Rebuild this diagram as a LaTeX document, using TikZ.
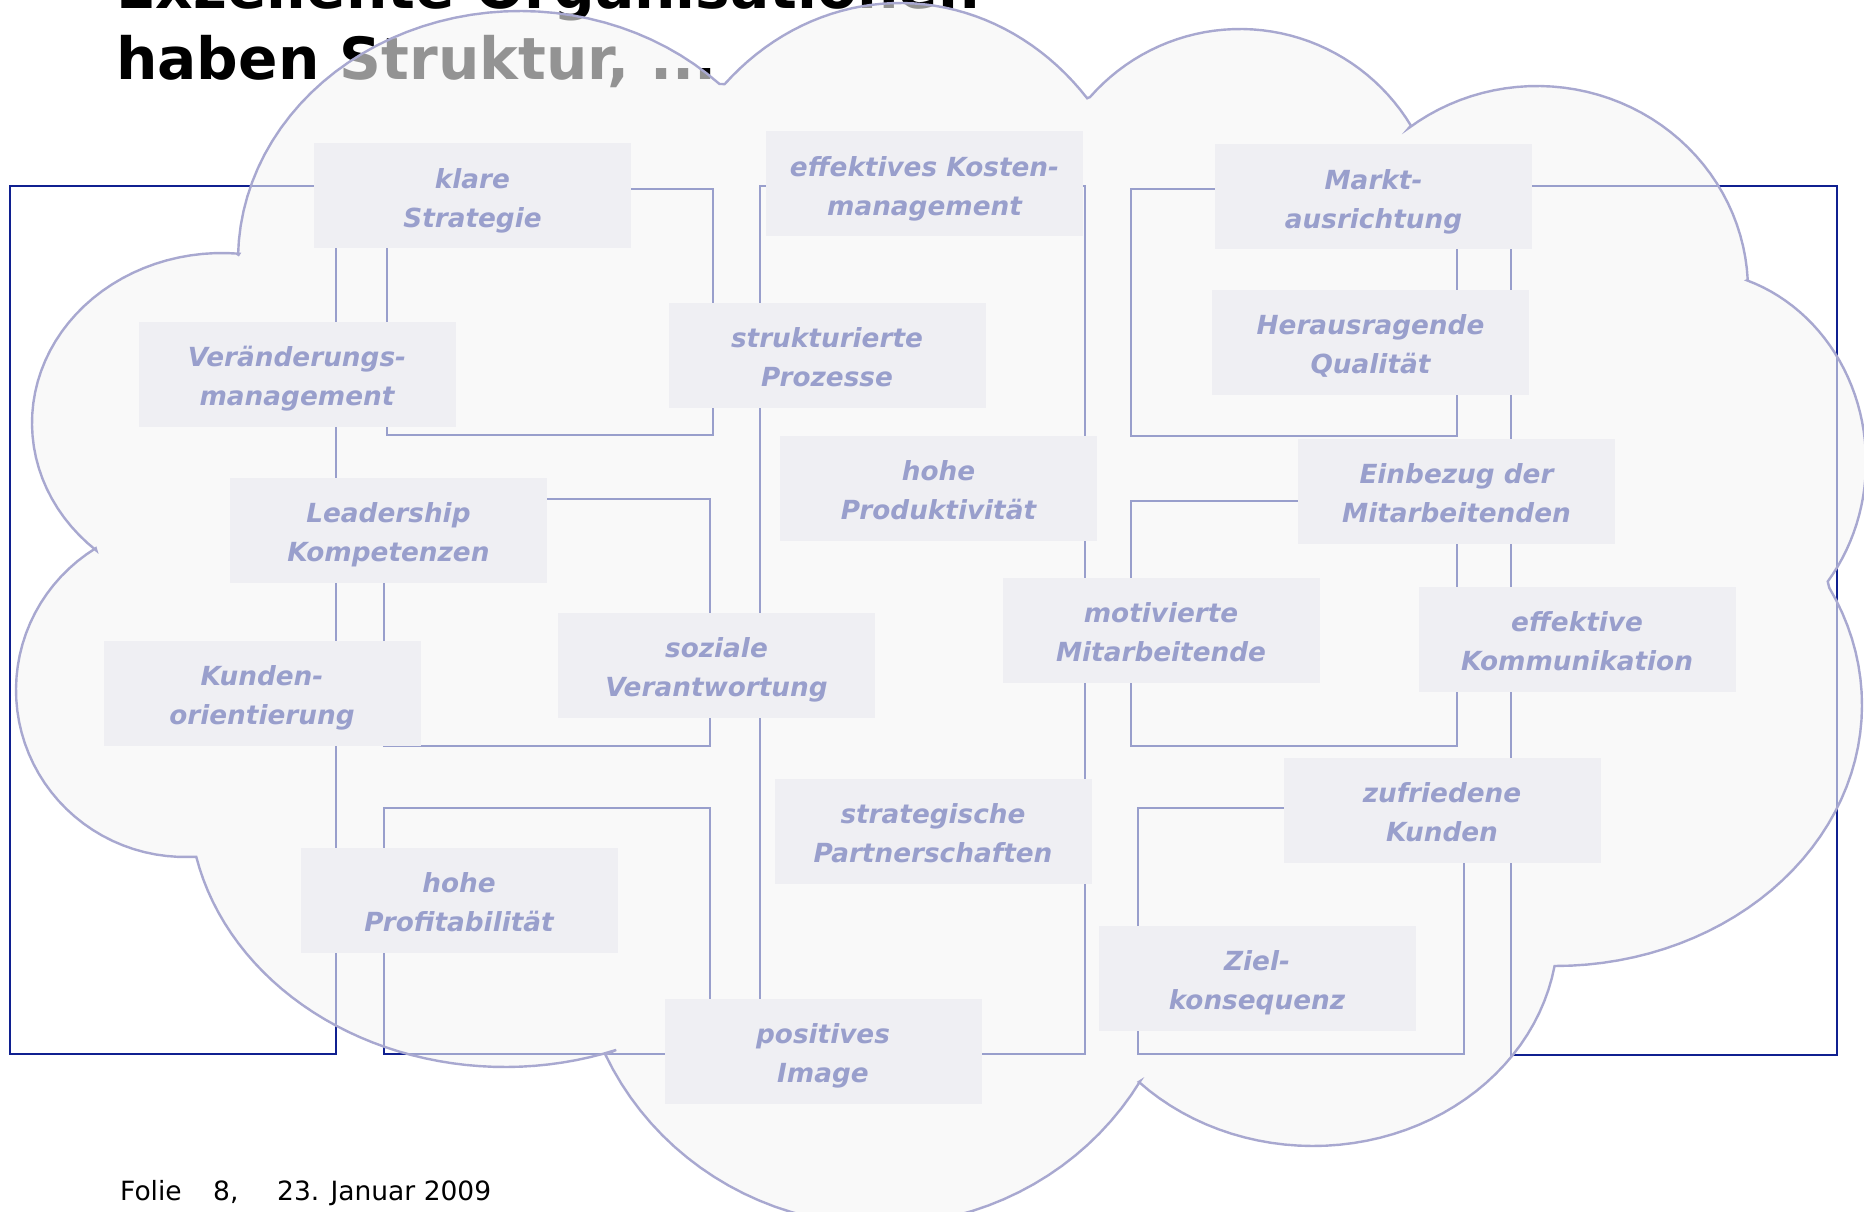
\documentclass[tikz,border=0pt]{standalone}
\usepackage{fontspec}
\setmainfont{DejaVu Sans}
\definecolor{navy}{RGB}{16,32,144}
\definecolor{boxfill}{RGB}{230,230,242}
\definecolor{cloudfill}{RGB}{245,245,245}
\definecolor{cloudline}{RGB}{168,168,208}
\newcommand{\boxtxt}[2]{\rule{0pt}{30.6pt}#1\\#2\rule[-6.5pt]{0pt}{6.5pt}}
\begin{document}
\begin{tikzpicture}[x=1pt,y=-1pt,
  navyline/.style={draw=navy, line width=2.9pt},
  kbox/.style={fill=boxfill, minimum width=317pt, minimum height=105pt, inner sep=0pt,
    align=center, text=navy, font=\bfseries\itshape\fontsize{26.3}{39}\selectfont},
  titletext/.style={anchor=base west, inner sep=0pt, font=\bfseries\fontsize{58.2}{70}\selectfont},
  foottext/.style={anchor=base west, inner sep=0pt, font=\fontsize{26.5}{30}\selectfont},
  lobe/.style={samples=40, variable=\t}]
\clip (0,0) rectangle (1864,1212);
\fill[white] (0,0) rectangle (1864,1212);
% title
\node[titletext] (t1) at (116,9) {Exzellente Organisationen};
\node[titletext] (t2) at (116,80) {haben Struktur, ...};
% frame lines
\draw[navyline] (10,186) rectangle (336,1054);
\draw[navyline] (387,189) rectangle (713,435);
\draw[navyline] (760,186) rectangle (1085,1054);
\draw[navyline] (1131,189) rectangle (1457,436);
\draw[navyline] (1511,186) rectangle (1837,1055);
\draw[navyline] (384,499) rectangle (710,746);
\draw[navyline] (1131,501) rectangle (1457,746);
\draw[navyline] (384,808) rectangle (710,1054);
\draw[navyline] (1138,808) rectangle (1464,1054);
% boxes
\node[kbox] (klare) at (472.5,195.5) {\boxtxt{klare}{Strategie}};
\node[kbox] (kosten) at (924.5,183.5) {\boxtxt{effektives Kosten-}{management}};
\node[kbox] (markt) at (1373.5,196.5) {\boxtxt{Markt-}{ausrichtung}};
\node[kbox] (veraend) at (297,374) {\boxtxt{Veränderungs-}{management}};
\node[kbox] (strukt) at (827,355) {\boxtxt{strukturierte}{Prozesse}};
\node[kbox] (heraus) at (1370.5,342) {\boxtxt{Herausragende}{Qualität}};
\node[kbox] (prod) at (938.5,488) {\boxtxt{hohe}{Produktivität}};
\node[kbox] (einbezug) at (1456.5,491) {\boxtxt{Einbezug der}{Mitarbeitenden}};
\node[kbox] (leader) at (388.5,530) {\boxtxt{Leadership}{Kompetenzen}};
\node[kbox] (sozial) at (716.5,665) {\boxtxt{soziale}{Verantwortung}};
\node[kbox] (motiv) at (1161,630) {\boxtxt{motivierte}{Mitarbeitende}};
\node[kbox] (kommun) at (1577,639) {\boxtxt{effektive}{Kommunikation}};
\node[kbox] (kunden) at (262,693) {\boxtxt{Kunden-}{orientierung}};
\node[kbox] (partner) at (933,831) {\boxtxt{strategische}{Partnerschaften}};
\node[kbox] (zufried) at (1442,810) {\boxtxt{zufriedene}{Kunden}};
\node[kbox] (profit) at (459,900) {\boxtxt{hohe}{Profitabilität}};
\node[kbox] (ziel) at (1257,978) {\boxtxt{Ziel-}{konsequenz}};
\node[kbox] (image) at (823,1051) {\boxtxt{positives}{Image}};
% cloud (elliptic lobes)
\path[fill=cloudfill, fill opacity=0.6, draw=cloudline, line width=2.4pt, line join=miter]
  (238,255.7)
  --plot[lobe, domain=181:315] ({520+282*cos(\t)},{260+249*sin(\t)})
  --plot[lobe, domain=225:319] ({900+248*cos(\t)},{280+277*sin(\t)})
  --plot[lobe, domain=221.4:328.7] ({1240+200*cos(\t)},{230+201*sin(\t)})
  --plot[lobe, domain=232.6:357.2] ({1537+211*cos(\t)},{290+204*sin(\t)})
  --plot[lobe, domain=288.9:398.5] ({1690+176*cos(\t)},{462+192*sin(\t)})
  --plot[lobe, domain=333.3:450] ({1555+307*cos(\t)},{705+261*sin(\t)})
  --plot[lobe, domain=9.6:135.3] ({1313+245*cos(\t)},{930+216*sin(\t)})
  --plot[lobe, domain=30.8:155] ({880+303*cos(\t)},{930+295*sin(\t)})
  --plot[lobe, domain=69.4:167.7] ({505+316*cos(\t)},{800+267*sin(\t)})
  --plot[lobe, domain=88.6:238.1] ({185+169*cos(\t)},{690+167*sin(\t)})
  --plot[lobe, domain=131.4:275.2] ({222+190*cos(\t)},{423+170*sin(\t)})
  -- cycle;
% footer
\node[foottext] (f1) at (120,1200) {Folie};
\node[foottext] (f2) at (213,1200) {8,};
\node[foottext] (f3) at (277,1200) {23. Januar 2009};
\end{tikzpicture}
\end{document}
